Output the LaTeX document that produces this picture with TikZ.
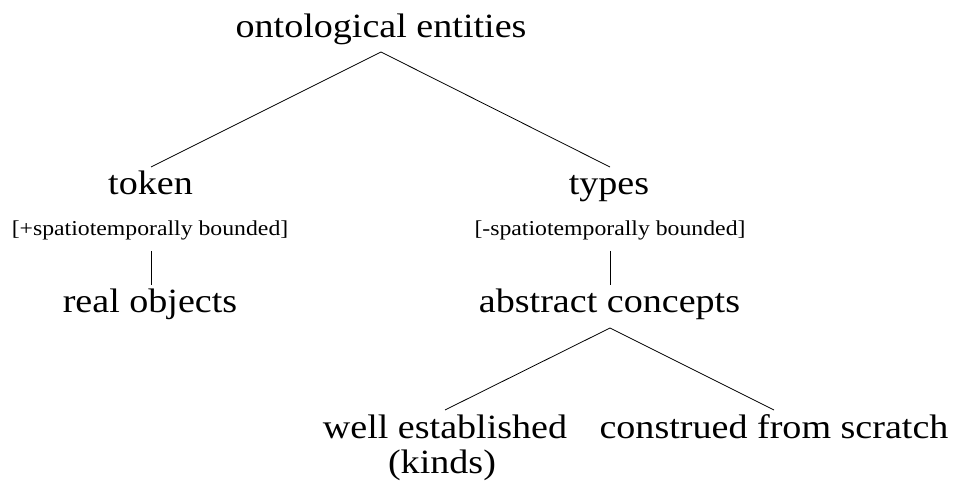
\documentclass[tikz,border=0pt]{standalone}
\usepackage{fontspec}
\setmainfont{Liberation Serif}[FakeStretch=1.12]
\begin{document}
\begin{tikzpicture}[x=1bp,y=-1bp,
  big/.style={font=\fontsize{34bp}{35bp}\selectfont, inner sep=0pt, anchor=base, align=center},
  small/.style={font=\fontsize{21.2bp}{26bp}\selectfont, inner sep=0pt, anchor=base},
  branch/.style={line width=0.8bp, black}]
\useasboundingbox (0,0) rectangle (954,484);

% labels
\node[big] (root) at (381,38) {ontological entities};
\node[big] (token) at (150.5,195) {token};
\node[big] (types) at (609,195) {types};
\node[small] (plus) at (150,236) {[+spatiotemporally bounded]};
\node[small] (minus) at (610,236) {[-spatiotemporally bounded]};
\node[big] (real) at (150,313) {real objects};
\node[big] (abstract) at (609.5,313) {abstract concepts};
\node[big] (well) at (445,438) {well established};
\node[big] (kinds) at (442,473) {(kinds)};
\node[big] (construed) at (774,438) {construed from scratch};

% branch end points
\coordinate (rootfork) at (381,52);
\coordinate (tokentop) at (151,167);
\coordinate (typestop) at (610,167);
\coordinate (plusbot) at (151,251);
\coordinate (realtop) at (151,285);
\coordinate (minusbot) at (610,251);
\coordinate (abstracttop) at (610,285);
\coordinate (abstractfork) at (610,328);
\coordinate (welltop) at (445,410);
\coordinate (construedtop) at (774,410);

\draw[branch] (tokentop) -- (rootfork) -- (typestop);
\draw[branch] (plusbot) -- (realtop);
\draw[branch] (minusbot) -- (abstracttop);
\draw[branch] (welltop) -- (abstractfork) -- (construedtop);
\end{tikzpicture}
\end{document}
